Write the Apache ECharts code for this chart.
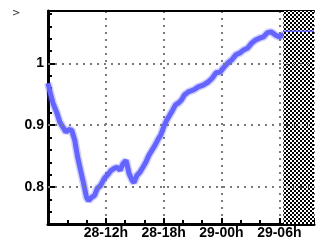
<!DOCTYPE html>
<html>
<head>
<meta charset="utf-8">
<script src="https://cdn.jsdelivr.net/npm/echarts@6/dist/echarts.min.js"></script>
<style>
  html, body { margin: 0; padding: 0; background: #fff; }
  #chart { width: 317px; height: 241px; }
</style>
</head>
<body>
<div id="chart"></div>
<script>
// hours counted from 28-00h
const hours = [6.0, 6.21, 6.51, 6.92, 7.23, 7.54, 7.85, 8.15, 8.46, 8.77, 9.08, 9.38, 9.69, 10.0,
  10.21, 10.51, 10.82, 11.13, 11.44, 11.85, 12.15, 12.56, 12.87, 13.18, 13.49, 13.79, 14.1, 14.41,
  14.72, 14.92, 15.23, 15.54, 15.85, 16.15, 16.46, 16.77, 17.08, 17.38, 17.69, 18.0, 18.31, 18.62,
  18.92, 19.23, 19.54, 19.85, 20.15, 20.56, 21.08, 21.59, 22.1, 22.62, 23.03, 23.44, 23.85, 24.26,
  24.67, 25.08, 25.49, 25.9, 26.31, 26.72, 27.13, 27.54, 27.95, 28.36, 28.77, 29.18, 29.59, 30.0,
  30.31, 30.41];
const values = [0.968, 0.954, 0.936, 0.92, 0.905, 0.897, 0.889, 0.893, 0.892, 0.876, 0.848, 0.827,
  0.806, 0.783, 0.778, 0.783, 0.786, 0.798, 0.802, 0.814, 0.819, 0.827, 0.83, 0.832, 0.827, 0.838,
  0.843, 0.822, 0.811, 0.807, 0.819, 0.824, 0.832, 0.84, 0.851, 0.859, 0.867, 0.876, 0.884, 0.897,
  0.908, 0.916, 0.924, 0.933, 0.936, 0.941, 0.949, 0.954, 0.957, 0.962, 0.965, 0.97, 0.976, 0.985,
  0.986, 0.994, 1.001, 1.006, 1.014, 1.017, 1.022, 1.025, 1.033, 1.038, 1.041, 1.043, 1.05, 1.051,
  1.046, 1.043, 1.046, 1.046];
const tailHours = [30.41, 33.6];
const tailValues = [1.052, 1.052];
const hatchRange = [30.41, 33.6];

const xTickHours = [12, 18, 24, 30];
const xTickLabels = ["28-12h", "28-18h", "29-00h", "29-06h"];
const yTickValues = [0.8, 0.9, 1];
const yTickLabels = ["0.8", "0.9", "1"];

const pat = document.createElement("canvas");
pat.width = 4;
pat.height = 4;
const pc = pat.getContext("2d");
pc.fillStyle = "#fff";
pc.fillRect(0, 0, 4, 4);
pc.fillStyle = "#000";
pc.fillRect(0, 0, 2, 2);
pc.fillRect(2, 2, 2, 2);

const font = { color: "#000", fontFamily: "Liberation Sans", fontWeight: "bold", fontSize: 14 };
const grid = "#7a7a7a";
const blue = "#6464ff";
const pts = hours.map((h, i) => [h, values[i]]);

const chart = echarts.init(document.getElementById("chart"));
chart.setOption({
  animation: false,
  grid: { left: 48, top: 11, right: -1, bottom: 17 },
  graphic: [{ type: "text", left: 12, top: 8, style: { text: ">", fontSize: 10, fill: "#333", fontFamily: "DejaVu Sans" } }],
  xAxis: [
    {
      type: "value", min: 6, max: 33.6, interval: 6,
      axisLine: { lineStyle: { color: "#000", width: 3 } },
      axisTick: { inside: true, length: 6, lineStyle: { color: "#000", width: 2 } },
      minorTick: { show: true, splitNumber: 3, length: 4, lineStyle: { color: "#000", width: 2 } },
      axisLabel: {
        ...font, margin: 2,
        formatter: (v) => {
          const i = xTickHours.findIndex((h) => Math.abs(h - v) < 1e-6);
          return i < 0 ? "" : xTickLabels[i];
        },
      },
      splitLine: { show: true, lineStyle: { color: grid, width: 2, type: [2, 5] } },
    },
    {
      type: "value", position: "top", min: 6, max: 33.6,
      axisLine: { show: true, lineStyle: { color: "#000", width: 2 } },
      axisTick: { show: false }, axisLabel: { show: false }, splitLine: { show: false },
    },
  ],
  yAxis: [
    {
      type: "value", min: 0.74, max: 1.085, interval: 0.02,
      axisLine: { show: true, lineStyle: { color: "#000", width: 3 } },
      axisTick: { inside: true, length: 4, lineStyle: { color: "#000", width: 2 } },
      axisLabel: { show: false },
      splitLine: { show: false },
    },
    {
      type: "value", position: "left", min: 0.74, max: 1.085,
      axisLine: { show: false },
      axisTick: { inside: true, length: 7, customValues: yTickValues, lineStyle: { color: "#000", width: 2 } },
      axisLabel: {
        ...font, margin: 4, customValues: yTickValues,
        formatter: (v) => {
          const i = yTickValues.findIndex((t) => Math.abs(t - v) < 1e-6);
          return i < 0 ? "" : yTickLabels[i];
        },
      },
      splitLine: { show: false },
    },
  ],
  series: [
    {
      type: "line", xAxisIndex: 0, yAxisIndex: 0, z: 2,
      data: pts,
      showSymbol: false,
      lineStyle: { color: blue, width: 8, opacity: 0.3 },
      markLine: {
        silent: true, symbol: "none", label: { show: false },
        lineStyle: { color: grid, width: 2, type: [2, 5] },
        data: yTickValues.map((v) => ({ yAxis: v })),
      },
    },
    {
      type: "line", xAxisIndex: 0, yAxisIndex: 0, z: 2,
      data: pts,
      showSymbol: false,
      lineStyle: { color: blue, width: 5 },
    },
    {
      type: "line", xAxisIndex: 0, yAxisIndex: 0, z: 3,
      data: [],
      markArea: {
        silent: true,
        itemStyle: { color: { image: pat, repeat: "repeat" } },
        data: [[{ xAxis: hatchRange[0] }, { xAxis: hatchRange[1] }]],
      },
    },
    {
      type: "line", xAxisIndex: 0, yAxisIndex: 0, z: 4,
      data: tailHours.map((h, i) => [h, tailValues[i]]),
      showSymbol: false,
      lineStyle: { color: blue, width: 1.5 },
    },
  ],
});
</script>
</body>
</html>
